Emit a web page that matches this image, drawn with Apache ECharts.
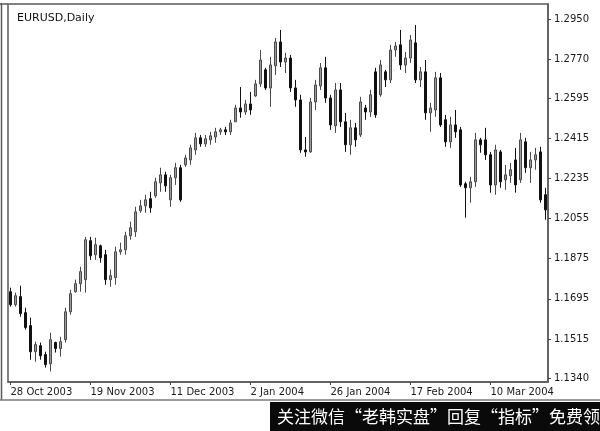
<!DOCTYPE html>
<html>
<head>
<meta charset="utf-8">
<script src="https://cdn.jsdelivr.net/npm/echarts/dist/echarts.min.js"></script>
<style>
html,body{margin:0;padding:0;background:#fff;}
#chart{width:600px;height:431px;}
</style>
</head>
<body>
<div id="chart"></div>
<script>
var categories = [
"28 Oct 2003","29 Oct 2003","30 Oct 2003","31 Oct 2003",
"3 Nov 2003","4 Nov 2003","5 Nov 2003","6 Nov 2003","7 Nov 2003",
"10 Nov 2003","11 Nov 2003","12 Nov 2003","13 Nov 2003","14 Nov 2003",
"17 Nov 2003","18 Nov 2003","19 Nov 2003","20 Nov 2003","21 Nov 2003",
"24 Nov 2003","25 Nov 2003","26 Nov 2003","27 Nov 2003","28 Nov 2003",
"1 Dec 2003","2 Dec 2003","3 Dec 2003","4 Dec 2003","5 Dec 2003",
"8 Dec 2003","9 Dec 2003","10 Dec 2003","11 Dec 2003","12 Dec 2003",
"15 Dec 2003","16 Dec 2003","17 Dec 2003","18 Dec 2003","19 Dec 2003",
"22 Dec 2003","23 Dec 2003","24 Dec 2003","25 Dec 2003","26 Dec 2003",
"29 Dec 2003","30 Dec 2003","31 Dec 2003","1 Jan 2004","2 Jan 2004",
"5 Jan 2004","6 Jan 2004","7 Jan 2004","8 Jan 2004","9 Jan 2004",
"12 Jan 2004","13 Jan 2004","14 Jan 2004","15 Jan 2004","16 Jan 2004",
"19 Jan 2004","20 Jan 2004","21 Jan 2004","22 Jan 2004","23 Jan 2004",
"26 Jan 2004","27 Jan 2004","28 Jan 2004","29 Jan 2004","30 Jan 2004",
"2 Feb 2004","3 Feb 2004","4 Feb 2004","5 Feb 2004","6 Feb 2004",
"9 Feb 2004","10 Feb 2004","11 Feb 2004","12 Feb 2004","13 Feb 2004",
"16 Feb 2004","17 Feb 2004","18 Feb 2004","19 Feb 2004","20 Feb 2004",
"23 Feb 2004","24 Feb 2004","25 Feb 2004","26 Feb 2004","27 Feb 2004",
"1 Mar 2004","2 Mar 2004","3 Mar 2004","4 Mar 2004","5 Mar 2004",
"8 Mar 2004","9 Mar 2004","10 Mar 2004","11 Mar 2004","12 Mar 2004",
"15 Mar 2004","16 Mar 2004","17 Mar 2004","18 Mar 2004","19 Mar 2004",
"22 Mar 2004","23 Mar 2004","24 Mar 2004","25 Mar 2004"
];

var opens = [
1.1727,1.1669,1.1705,1.1633,1.1575,1.1458,1.1485,1.1445,1.1404,1.1499,
1.1472,1.1512,1.1637,1.1727,1.1763,1.1781,1.1956,1.1893,1.1933,1.1893,
1.1781,1.1790,1.1906,1.1915,1.1978,1.1996,1.2090,1.2112,1.2144,1.2157,
1.2215,1.2251,1.2139,1.2238,1.2283,1.2296,1.2318,1.2363,1.2417,1.2390,
1.2408,1.2421,1.2444,1.2453,1.2444,1.2489,1.2551,1.2533,1.2569,1.2605,
1.2659,1.2722,1.2641,1.2740,1.2847,1.2757,1.2775,1.2641,1.2587,1.2363,
1.2354,1.2578,1.2650,1.2731,1.2596,1.2471,1.2632,1.2489,1.2386,1.2462,
1.2430,1.2551,1.2533,1.2713,1.2610,1.2713,1.2677,1.2811,1.2834,1.2744,
1.2775,1.2843,1.2677,1.2713,1.2529,1.2542,1.2686,1.2498,1.2399,1.2475,
1.2453,1.2211,1.2193,1.2220,1.2408,1.2408,1.2341,1.2206,1.2354,1.2229,
1.2247,1.2318,1.2229,1.2399,1.2283,1.2318,1.2354,1.2162
];
var closes = [
1.1669,1.1709,1.1629,1.1566,1.1458,1.1490,1.1440,1.1400,1.1512,1.1472,
1.1503,1.1637,1.1718,1.1763,1.1817,1.1960,1.1888,1.1938,1.1879,1.1781,
1.1799,1.1906,1.1915,1.1978,1.2014,1.2085,1.2112,1.2139,1.2103,1.2220,
1.2251,1.2202,1.2238,1.2283,1.2139,1.2327,1.2372,1.2417,1.2390,1.2413,
1.2426,1.2444,1.2453,1.2444,1.2484,1.2551,1.2533,1.2569,1.2542,1.2659,
1.2766,1.2641,1.2744,1.2847,1.2757,1.2775,1.2641,1.2587,1.2363,1.2354,
1.2578,1.2654,1.2731,1.2596,1.2475,1.2632,1.2489,1.2386,1.2462,1.2408,
1.2578,1.2533,1.2610,1.2520,1.2744,1.2677,1.2811,1.2829,1.2744,1.2775,
1.2856,1.2677,1.2713,1.2529,1.2551,1.2686,1.2475,1.2399,1.2475,1.2444,
1.2206,1.2193,1.2220,1.2408,1.2386,1.2341,1.2206,1.2363,1.2220,1.2251,
1.2274,1.2206,1.2408,1.2283,1.2318,1.2341,1.2139,1.2094
];
var lows = [
1.1660,1.1660,1.1615,1.1557,1.1422,1.1413,1.1422,1.1387,1.1369,1.1454,
1.1436,1.1499,1.1624,1.1723,1.1727,1.1723,1.1870,1.1870,1.1857,1.1758,
1.1749,1.1758,1.1893,1.1893,1.1960,1.1973,1.2081,1.2081,1.2081,1.2148,
1.2175,1.2175,1.2108,1.2206,1.2130,1.2287,1.2296,1.2341,1.2377,1.2377,
1.2386,1.2395,1.2430,1.2430,1.2430,1.2489,1.2507,1.2520,1.2520,1.2601,
1.2645,1.2632,1.2556,1.2699,1.2735,1.2708,1.2623,1.2556,1.2350,1.2332,
1.2350,1.2542,1.2632,1.2574,1.2453,1.2439,1.2466,1.2354,1.2341,1.2377,
1.2421,1.2498,1.2511,1.2507,1.2601,1.2645,1.2663,1.2780,1.2722,1.2708,
1.2753,1.2663,1.2645,1.2498,1.2444,1.2511,1.2466,1.2377,1.2372,1.2417,
1.2197,1.2059,1.2126,1.2197,1.2350,1.2318,1.2171,1.2162,1.2193,1.2184,
1.2215,1.2171,1.2215,1.2260,1.2215,1.2274,1.2126,1.2050
];
var highs = [
1.1745,1.1723,1.1754,1.1655,1.1611,1.1503,1.1499,1.1458,1.1543,1.1503,
1.1525,1.1655,1.1736,1.1781,1.1839,1.1973,1.1973,1.1969,1.1938,1.1915,
1.1826,1.1929,1.1947,1.1996,1.2041,1.2108,1.2139,1.2162,1.2175,1.2238,
1.2283,1.2265,1.2251,1.2305,1.2296,1.2341,1.2386,1.2439,1.2430,1.2430,
1.2444,1.2462,1.2462,1.2466,1.2498,1.2565,1.2645,1.2587,1.2623,1.2677,
1.2811,1.2731,1.2780,1.2865,1.2901,1.2798,1.2789,1.2677,1.2610,1.2421,
1.2596,1.2677,1.2753,1.2780,1.2610,1.2663,1.2663,1.2529,1.2498,1.2484,
1.2601,1.2565,1.2632,1.2731,1.2766,1.2722,1.2834,1.2847,1.2901,1.2802,
1.2878,1.2923,1.2735,1.2766,1.2574,1.2713,1.2708,1.2520,1.2511,1.2542,
1.2466,1.2220,1.2242,1.2439,1.2417,1.2462,1.2354,1.2386,1.2363,1.2296,
1.2305,1.2372,1.2439,1.2417,1.2354,1.2372,1.2377,1.2193
];
var yTicks = [1.1340,1.1515,1.1695,1.1875,1.2055,1.2235,1.2415,1.2595,1.2770,1.2950];

var candleData = opens.map(function (o, i) {
  return [o, closes[i], lows[i], highs[i]];
});

var chart = echarts.init(document.getElementById('chart'), null, {renderer: 'canvas'});
var font = 'DejaVu Sans';
chart.setOption({
  animation: false,
  backgroundColor: '#ffffff',
  title: {
    text: 'EURUSD,Daily',
    left: 12, top: 8,
    textStyle: {fontFamily: font, fontSize: 11, fontWeight: 'normal', color: '#111'}
  },
  grid: {
    left: 8, right: 52, top: 4, bottom: 49,
    show: true, borderColor: '#5a5a5a', borderWidth: 1.5, backgroundColor: '#fff'
  },
  xAxis: {
    type: 'category',
    data: categories,
    boundaryGap: true,
    axisLine: {show: true, lineStyle: {color: '#5a5a5a', width: 1.5}},
    axisTick: {show: true, interval: 15, alignWithLabel: true, length: 3, lineStyle: {color: '#444'}},
    axisLabel: {interval: 15, align: 'left', margin: 5, fontFamily: font, fontSize: 10, color: '#1a1a1a'},
    splitLine: {show: false}
  },
  yAxis: {
    type: 'value',
    position: 'right',
    min: 1.132206,
    max: 1.301726,
    axisLine: {show: true, lineStyle: {color: '#5a5a5a', width: 1.5}},
    axisTick: {show: true, customValues: yTicks, length: 3, lineStyle: {color: '#444'}},
    axisLabel: {
      customValues: yTicks, margin: 6, fontFamily: font, fontSize: 10, color: '#1a1a1a',
      formatter: function (v) { return v.toFixed(4); }
    },
    splitLine: {show: false}
  },
  series: [{
    type: 'candlestick',
    data: candleData,
    barWidth: 3,
    itemStyle: {
      color: '#9a9a9a', color0: '#111111',
      borderColor: '#4a4a4a', borderColor0: '#111111', borderWidth: 1
    }
  }],
  graphic: [
    {type: 'line', shape: {x1: 1.5, y1: 3, x2: 1.5, y2: 400}, style: {stroke: '#5a5a5a', lineWidth: 1.5}},
    {type: 'line', shape: {x1: 0, y1: 4, x2: 8, y2: 4}, style: {stroke: '#5a5a5a', lineWidth: 1.5}},
    {type: 'line', shape: {x1: 0, y1: 400, x2: 600, y2: 400}, style: {stroke: '#7a7a7a', lineWidth: 1.5}},
    {type: 'rect', shape: {x: 270, y: 402, width: 330, height: 29}, style: {fill: '#0a0a0a'}},
    {type: 'text', x: 277, y: 417, style: {
      text: '关注微信“老韩实盘”回复“指标”免费领',
      fill: '#ffffff', font: '17px "Noto Sans CJK SC"', textVerticalAlign: 'middle'
    }}
  ]
});
</script>
</body>
</html>
